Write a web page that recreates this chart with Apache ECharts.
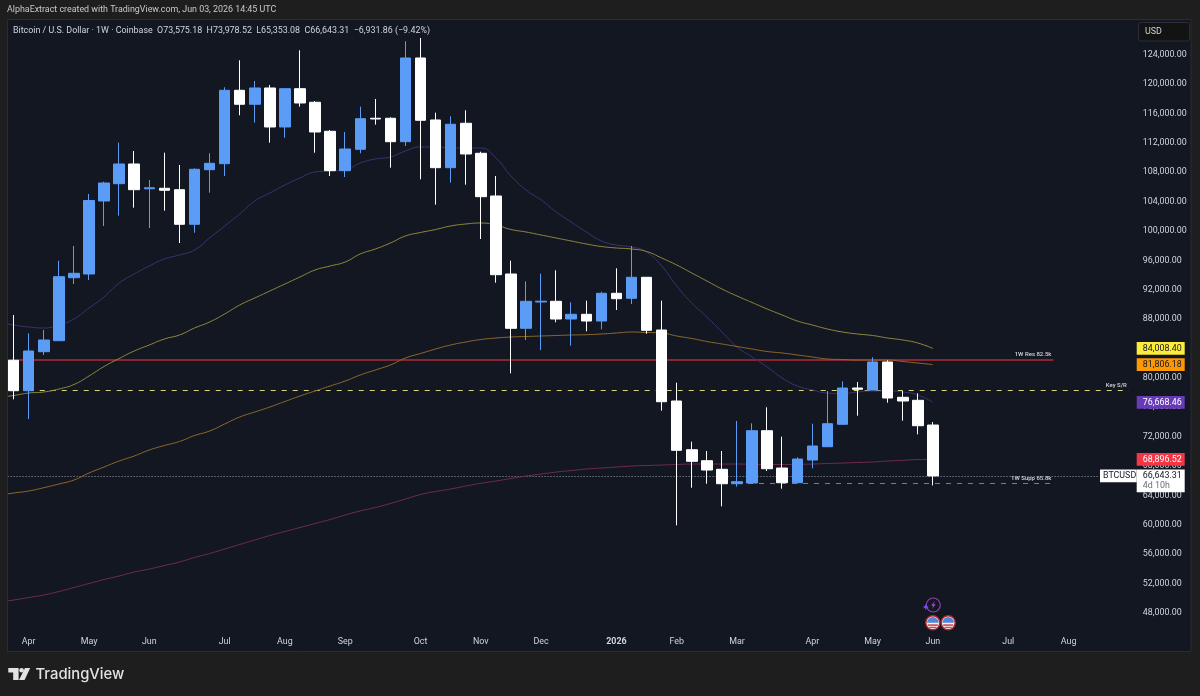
<!DOCTYPE html>
<html><head><meta charset="utf-8">
<style>html,body{margin:0;padding:0;background:#1e1e1e}#c{width:1200px;height:696px}</style>
<script src="https://cdn.jsdelivr.net/npm/echarts@6/dist/echarts.min.js"></script>
</head><body><div id="c"></div>
<script>
// Weekly candles (index 0 = week of 2025-03-31)
const opens = [82390,78250,83563,85060,93640,94144,104087,106443,109126,105749,105817,105626,100914,108350,109167,119164,117258,119477,114166,119382,117530,113580,108214,111130,115351,115351,112163,123563,115119,108622,114670,110584,104768,94144,86749,90330,90426,88015,88656,87743,91516,90836,93695,86517,76847,70213,68717,67545,65584,65678,72803,67721,65720,68811,70623,73674,78618,78345,82159,77351,76944,73575.18];
const closes = [78250,83657,85155,93777,94240,104155,106538,109126,105626,105885,105544,100914,108405,109222,119164,117258,119477,114166,119382,117434,113485,108214,111169,115296,115255,112163,123563,115078,108622,114534,110488,104673,94049,86749,90426,90440,88015,88656,87743,91516,90781,93695,86477,76752,70132,68633,67449,65584,65856,72803,67627,65720,68947,70718,73756,78618,78441,82159,77255,76847,73483,66643.31];
const lows = [77078,74395,83112,85060,92783,93327,100682,102085,103174,100410,102766,98366,99770,105217,107492,115760,114751,112027,112708,116930,110665,107492,107356,110584,114479,108622,111578,107043,103584,106580,106307,98911,92960,80620,85155,83793,87567,84380,86340,86612,89241,90058,86013,75527,59917,65040,65584,62506,65175,65610,67313,64903,65652,67679,70581,73647,74846,78318,76615,74165,72312,65353.08];
const highs = [88560,86067,86517,95956,97958,105040,106716,112027,110897,106947,110665,108990,108541,110584,119573,123250,120431,119886,119477,124612,117707,113757,113485,116930,117979,115487,125838,126287,116114,115623,116440,110802,107492,95956,93150,94186,94648,90290,90508,91733,94920,97958,93735,90508,79341,71305,70037,70037,74123,73811,75990,71984,69177,73756,78209,79530,79435,82799,82392,78209,77896,73978.52];

// Moving averages: first value is the week before the first candle, cut by the pane edge
const maPurple = [87606,87198,86926,86789,87198,88016,89513,91012,92918,94144,95234,96187,96732,97413,99047,100682,102316,104087,105176,106266,107219,108037,108173,108309,109263,109807,110079,110897,111442,111442,111305,111305,111305,109943,107492,105585,104223,102589,101227,99865,98639,98094,97822,97141,95234,92510,90194,88288,86245,84202,82841,81478,79980,78890,78345,77936,77868,78073,78208,78208,78073,77664,76668.46];
const maOlive = [77323,77596,77937,78073,78481,79094,80252,81547,82635,83657,84474,85291,85836,86790,87607,88696,89922,90875,91829,92782,93736,94689,95234,95779,96868,97549,98366,99320,99797,100205,100682,100954,101090,100818,100205,99865,99456,99047,98639,98230,97889,97685,97549,97208,96323,95370,94280,93191,92101,91148,90263,89377,88560,87743,87198,86653,86245,85972,85767,85427,85155,84746,84008.40];
const maOrange = [64003,64316,64591,65040,65542,66087,67040,67858,68675,69356,70173,70786,71331,72146,72760,73714,74668,75349,76030,76780,77528,78209,78890,79570,80388,81069,81750,82703,83316,83930,84474,84883,85223,85427,85564,85632,85700,85768,85836,85877,85972,86108,86245,86177,86108,85700,85359,84950,84610,84270,83930,83588,83388,83116,82840,82567,82500,82431,82431,82431,82226,82022,81806.18];
const maRed = [49471,49743,50084,50424,50901,51446,51991,52533,53012,53557,53965,54442,54919,55532,56077,56690,57303,57915,58530,59075,59620,60164,60709,61320,61875,62343,62890,63500,64114,64525,64862,65270,65640,65950,66290,66630,66900,67170,67380,67585,67720,67860,67990,68060,68130,68200,68265,68265,68265,68265,68225,68200,68200,68225,68265,68335,68400,68470,68540,68675,68770,68875,68896.52];

// Horizontal levels
const levelRes = 82500, levelKey = 78300, levelSupp = 65600, lastPrice = 66643.31;

// Tick labels
const priceTicks = [48000,52000,56000,60000,64000,68000,72000,76000,80000,84000,88000,92000,96000,100000,104000,108000,112000,116000,120000,124000];
const timeTicks = {'2025-04-07':'Apr','2025-05-05':'May','2025-06-02':'Jun','2025-07-07':'Jul','2025-08-04':'Aug','2025-09-01':'Sep','2025-10-06':'Oct','2025-11-03':'Nov','2025-12-01':'Dec','2026-01-05':'2026','2026-02-02':'Feb','2026-03-02':'Mar','2026-04-06':'Apr','2026-05-04':'May','2026-06-01':'Jun','2026-07-06':'Jul','2026-08-03':'Aug'};

// Price tags on the axis
const priceTags = [
  {value:84008.40, bg:'#ffeb3b', fg:'#131722'},
  {value:81806.18, bg:'#ff9800', fg:'#131722'},
  {value:76668.46, bg:'#673ab7', fg:'#ffffff'},
  {value:68896.52, bg:'#f23645', fg:'#ffffff'}
];
const headerText = 'AlphaExtract created with TradingView.com, Jun 03, 2026 14:45 UTC';
const legendText = 'Bitcoin / U.S. Dollar \u00b7 1W \u00b7 Coinbase  O73,575.18  H73,978.52  L65,353.08  C66,643.31  \u22126,931.86 (\u22129.42%)';

// Weeks (one leading week that falls outside the pane)
const weeks = [];
for (let i = 0; i < 76; i++) {
  weeks.push(new Date(Date.UTC(2025, 2, 24 + i * 7)).toISOString().slice(0, 10));
}
const candles = [['-','-','-','-']].concat(opens.map((o, i) => [o, closes[i], lows[i], highs[i]]));
const at = i => weeks[i + 1]; // week of candle index i
const fmt = v => v.toLocaleString('en-US', {minimumFractionDigits: 2, maximumFractionDigits: 2});
const FONT = 'Roboto, "Noto Sans", sans-serif';
const AXFS = 8.9;
const maSeries = (name, data, color) => ({
  name, type: 'line', data, showSymbol: false, symbol: 'none', smooth: 0.5, z: 2, silent: true,
  lineStyle: {color, width: 1}, connectNulls: false, clip: true
});
const hLine = (v, a, b, color, type, width, text, tcolor) => ({
  silent: true, symbol: 'none', animation: false, z: 1, precision: 2,
  lineStyle: {color, type, width},
  data: [[
    {coord: [a, v], lineStyle: {color, type, width},
     label: text ? {show: true, formatter: text, position: 'insideEndTop', color: tcolor, fontSize: 6, fontFamily: FONT, distance: 2, fontWeight: 500} : {show: false}},
    {coord: [b, v]}
  ]]
});

const chart = echarts.init(document.getElementById('c'), null, {renderer: 'canvas', width: 1200, height: 696});
chart.setOption({
  backgroundColor: '#131722',
  animation: false,
  tooltip: {show: false},
  legend: {show: false},
  grid: {left: -8.95, top: 25.4, width: 1145.32, height: 616.8, containLabel: false, outerBoundsMode: 'none'},
  xAxis: {
    type: 'category', data: weeks, boundaryGap: true,
    axisLine: {show: false}, axisTick: {show: false}, splitLine: {show: false},
    axisLabel: {
      margin: -4.5, color: '#d1d4dc', fontSize: AXFS, fontFamily: FONT, hideOverlap: false,
      interval: (i, v) => v in timeTicks,
      formatter: v => v === '2026-01-05' ? '{b|2026}' : (timeTicks[v] || ''),
      rich: {b: {fontWeight: 700, color: '#d1d4dc', fontSize: AXFS, fontFamily: FONT}}
    }
  },
  yAxis: {
    type: 'value', position: 'right', min: 44000, max: 128000, interval: 4000, scale: false,
    axisLine: {show: false}, axisTick: {show: false}, splitLine: {show: false},
    axisLabel: {
      margin: 6.4, color: '#d1d4dc', fontSize: AXFS, fontFamily: FONT, showMinLabel: false, showMaxLabel: false,
      formatter: v => priceTicks.includes(v) ? fmt(v) : ''
    }
  },
  series: [
    maSeries('MA purple', maPurple, '#3c3470'),
    maSeries('MA olive', maOlive, '#8f8a3e'),
    maSeries('MA orange', maOrange, '#8f6a2c'),
    maSeries('MA red', maRed, '#732c4e'),
    {name: 'Res', type: 'line', data: [], z: 1, markLine: hLine(levelRes, 0, at(69), '#b32a36', 'solid', 1.5, '1W Res 82.5k', '#d1d4dc')},
    {name: 'Key', type: 'line', data: [], z: 1, markLine: hLine(levelKey, at(1), at(74), '#d8d67e', [5, 6], 1, 'Key S/R', '#d1d4dc')},
    {name: 'Supp', type: 'line', data: [], z: 1, markLine: hLine(levelSupp, at(48), at(69), '#5e8f73', [5, 6], 1, '1W Supp 65.8k', '#d1d4dc')},
    {name: 'Last', type: 'line', data: [], z: 1, markLine: hLine(lastPrice, 0, at(72), '#9a9ea8', [1, 2], 1)},
    {
      name: 'BTCUSD', type: 'candlestick', data: candles, barWidth: 11, z: 5, silent: true,
      itemStyle: {color: '#5b9cf6', color0: '#ffffff', borderColor: '#5b9cf6', borderColor0: '#ffffff', borderWidth: 1}
    }
  ]
});

const yOf = v => chart.convertToPixel({yAxisIndex: 0}, v);
const Z = 100;
const text = (x, y, t, size, fill, extra) => ({type: 'text', x, y, z: Z + 2, silent: true,
  style: Object.assign({text: t, fill, fontSize: size, fontFamily: FONT, verticalAlign: 'middle', align: 'left'}, extra || {})});
const rect = (x, y, w, h, fill, extra) => ({type: 'rect', z: Z, silent: true, shape: Object.assign({x, y, width: w, height: h}, extra && extra.shape || {}),
  style: Object.assign({fill}, extra && extra.style || {})});
const OUT = '#1e1e1e';
const g = [
  // outer frame of the picture
  rect(0, 0, 1200, 19.5, OUT), rect(0, 651.5, 1200, 44.5, OUT), rect(0, 0, 7.5, 696, OUT), rect(1191, 0, 9, 696, OUT),
  {type: 'rect', z: Z + 1, silent: true, shape: {x: 7.5, y: 19.5, width: 1183.5, height: 632}, style: {fill: 'none', stroke: '#2a2c30', lineWidth: 1}},
  text(7, 10, headerText, 8.9, '#c9c9c9'),
  text(13, 30.5, legendText, 8.9, '#d1d4dc'),
  // USD box
  {type: 'rect', z: Z + 1, silent: true, shape: {x: 1138.5, y: 22.5, width: 51, height: 18.5, r: 3}, style: {fill: '#131313', stroke: '#2a2e39', lineWidth: 1}},
  text(1145, 32, 'USD', 8.9, '#d1d4dc'),
  // TradingView logo
  {type: 'polygon', z: Z + 1, silent: true, shape: {points: [[8.3,668],[18.6,668],[18.6,680],[13.2,680],[13.2,672.6],[8.3,672.6]]}, style: {fill: '#e3e3e3'}},
  {type: 'circle', z: Z + 1, silent: true, shape: {cx: 21.6, cy: 670.3, r: 2.3}, style: {fill: '#e3e3e3'}},
  {type: 'polygon', z: Z + 1, silent: true, shape: {points: [[25,668],[30.2,668],[24.6,680],[19,680]]}, style: {fill: '#e3e3e3'}},
  text(35.5, 674.5, 'TradingView', 14.8, '#e3e3e3', {fontFamily: 'Inter, Roboto, sans-serif', fontWeight: 500}),
  // event markers
  {type: 'circle', z: Z + 1, silent: true, shape: {cx: 933.3, cy: 605, r: 7}, style: {fill: 'none', stroke: '#8e3fb0', lineWidth: 1.2}},
  {type: 'polygon', z: Z + 2, silent: true, shape: {points: [[934.8,601],[931,605.8],[933.2,605.8],[932,609],[935.8,604.2],[933.6,604.2]]}, style: {fill: '#a244c8'}},
  {type: 'polygon', z: Z + 2, silent: true, shape: {points: [[925.8,604],[926.7,606.1],[928.8,607],[926.7,607.9],[925.8,610],[924.9,607.9],[922.8,607],[924.9,606.1]]}, style: {fill: '#7c4dff'}}
];
[932.8, 948.2].forEach(cx => {
  const cy = 622.8;
  g.push({type: 'circle', z: Z + 1, silent: true, shape: {cx, cy, r: 7}, style: {fill: '#f1f1f1', stroke: '#b3262f', lineWidth: 1.4}});
  g.push({type: 'sector', z: Z + 2, silent: true, shape: {cx, cy, r: 5.8, r0: 0, startAngle: Math.PI, endAngle: 2 * Math.PI}, style: {fill: '#4f86d8'}});
  g.push({type: 'rect', z: Z + 2, silent: true, shape: {x: cx - 5, y: cy + 1.5, width: 10, height: 1.6}, style: {fill: '#d8454f'}});
  g.push({type: 'rect', z: Z + 2, silent: true, shape: {x: cx - 3.6, y: cy + 4, width: 7.2, height: 1.3}, style: {fill: '#d8454f'}});
});
const TX = 1136.7, TW = 48;
priceTags.forEach(t => {
  const y = yOf(t.value);
  g.push(rect(TX, y - 6.4, TW, 12.8, t.bg));
  g.push(text(1142.8, y + 0.2, fmt(t.value), AXFS, t.fg));
});
const yl = yOf(lastPrice);
g.push(rect(1100, yl - 6.4, 36.7, 12.8, '#ffffff'));
g.push(text(1103, yl + 0.2, 'BTCUSD', 8.9, '#131722'));
g.push(rect(TX, yl - 6.4, TW, 22.8, '#ffffff'));
g.push(text(1142.8, yl + 0.2, fmt(lastPrice), AXFS, '#131722'));
g.push(text(1142.8, yl + 10.2, '4d 10h', 8.9, '#6a6d78'));
chart.setOption({graphic: {elements: g}});
</script></body></html>
